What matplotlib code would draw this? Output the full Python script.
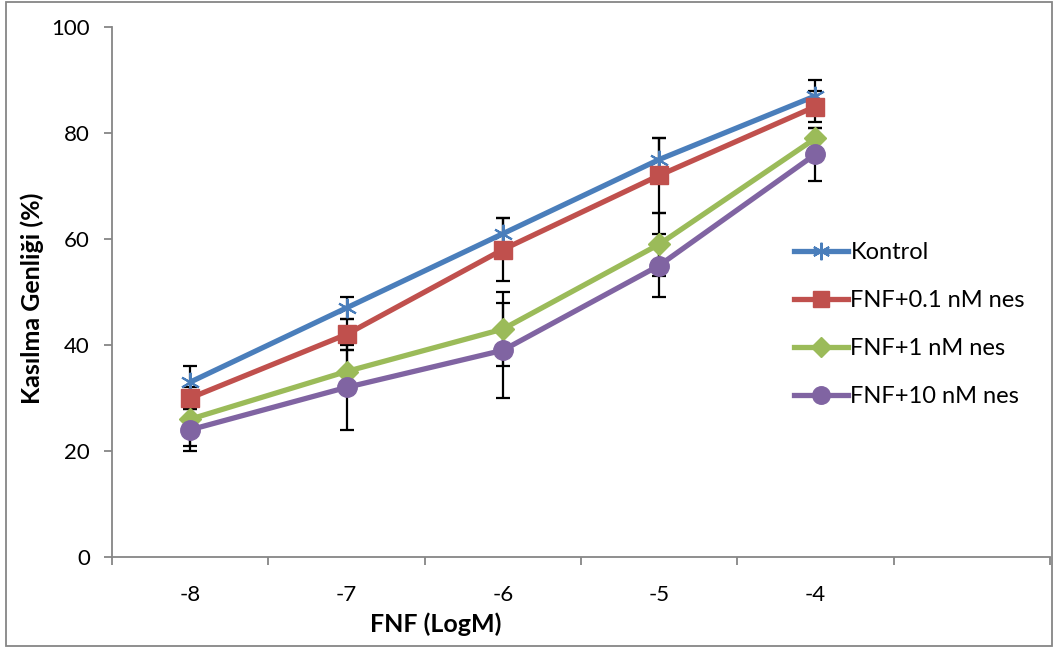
import numpy as np
import matplotlib.pyplot as plt
from matplotlib.patches import Rectangle

plt.rcParams['font.family'] = ['Lato', 'DejaVu Sans']

doses = ['-8', '-7', '-6', '-5', '-4']

kontrol = [33, 47, 61, 75, 87]
kontrol_err = [3, 2, 3, 4, 3]
fnf01 = [30, 42, 58, 72, 85]
fnf01_err = [2, 3, 6, 7, 3]
fnf1 = [26, 35, 43, 59, 79]
fnf1_err = [5, 4, 7, 6, 2]
fnf10 = [24, 32, 39, 55, 76]
fnf10_err = [4, 8, 9, 6, 5]

names = ['Kontrol', 'FNF+0.1 nM nes', 'FNF+1 nM nes', 'FNF+10 nM nes']
colors = ['#4A7EBB', '#C0504D', '#9BBB59', '#8064A2']

fig = plt.figure(figsize=(10.53, 6.5), dpi=100)
ax = fig.add_axes([112/1053, 93/650, 938/1053, 530/650])

x = np.arange(len(doses))

# error bars first, behind the lines
for vals, errs in [(kontrol, kontrol_err), (fnf01, fnf01_err), (fnf1, fnf1_err), (fnf10, fnf10_err)]:
    ax.errorbar(x, vals, yerr=errs, fmt='none', ecolor='black', elinewidth=1.6,
                capsize=5, capthick=1.6, zorder=2)

ax.plot(x, kontrol, color=colors[0], lw=3.8, marker=(6, 2, 0), ms=14, mew=1.5,
        mec=colors[0], label=names[0], zorder=3)
ax.plot(x, fnf01, color=colors[1], lw=3.8, marker='s', ms=13, mec=colors[1], label=names[1], zorder=3)
ax.plot(x, fnf1, color=colors[2], lw=3.8, marker='D', ms=11, mec=colors[2], label=names[2], zorder=3)
ax.plot(x, fnf10, color=colors[3], lw=3.8, marker='o', ms=14, mec=colors[3], label=names[3], zorder=3)

ax.set_xlim(-0.5, 5.5)
ax.set_ylim(0, 100)
ax.set_yticks(np.arange(0, 101, 20))
ax.set_xticks(x)
ax.set_xticklabels(doses)
ax.set_xticks(np.arange(-0.5, 5.6, 1), minor=True)
ax.tick_params(axis='x', which='major', length=0, pad=20, labelsize=16)
ax.tick_params(axis='x', which='minor', length=6, color='#868686', width=1.3, direction='out')
ax.tick_params(axis='y', length=6, color='#868686', width=1.3, direction='out', pad=10, labelsize=16)

for s in ['top', 'right']:
    ax.spines[s].set_visible(False)
for s in ['left', 'bottom']:
    ax.spines[s].set_color('#868686')
    ax.spines[s].set_linewidth(1.3)

fig.text(436/1053, 1 - 624/650, 'FNF (LogM)', ha='center', va='center',
         fontsize=18, fontweight='bold')
fig.text(32/1053, 1 - 298/650, 'Kasılma Genliği (%)', ha='center', va='center',
         rotation=90, fontsize=18, fontweight='bold')

leg = ax.legend(loc='upper left', bbox_to_anchor=(782/1053, 1 - 230/650),
                bbox_transform=fig.transFigure, frameon=False, fontsize=17,
                handlelength=2.3, handletextpad=0.1, labelspacing=1.15, borderpad=0,
                markerscale=0.9)

fig.patches.append(Rectangle((6/1053, 4/650), 1046/1053, 644/650, transform=fig.transFigure,
                             fill=False, edgecolor='#868686', lw=1.3))

fig.savefig('out.png', dpi=100)
